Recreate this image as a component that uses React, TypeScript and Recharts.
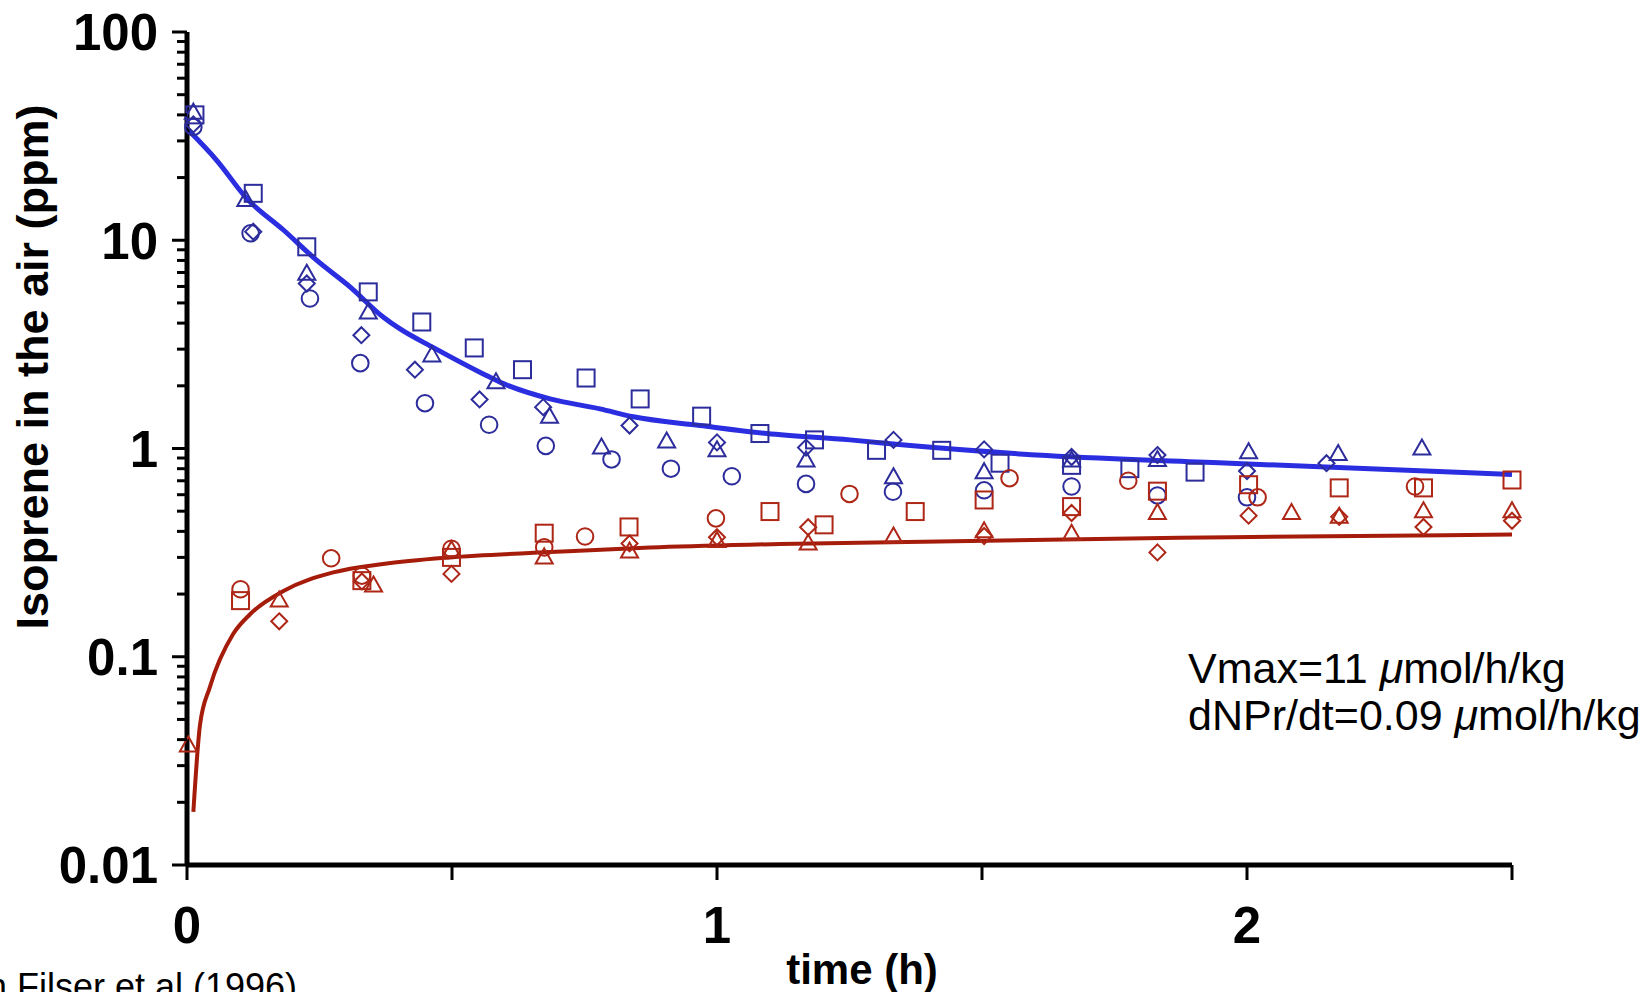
import React from 'react'
import {ComposedChart, Scatter, Line, XAxis, YAxis} from 'recharts'

// blue: chamber air after dosing, red: exhaled isoprene (ppm vs hours)
const blueSquare = [
  {t: 0.015, v: 40}, {t: 0.125, v: 16.8}, {t: 0.226, v: 9.3}, {t: 0.342, v: 5.65},
  {t: 0.443, v: 4.05}, {t: 0.542, v: 3.04}, {t: 0.633, v: 2.39}, {t: 0.753, v: 2.18},
  {t: 0.855, v: 1.73}, {t: 0.971, v: 1.43}, {t: 1.081, v: 1.18}, {t: 1.184, v: 1.1},
  {t: 1.301, v: 0.98}, {t: 1.424, v: 0.98}, {t: 1.534, v: 0.85}, {t: 1.669, v: 0.83},
  {t: 1.779, v: 0.8}, {t: 1.902, v: 0.77},
]
const blueTriangle = [
  {t: 0.012, v: 41}, {t: 0.111, v: 15.6}, {t: 0.226, v: 6.9}, {t: 0.342, v: 4.5},
  {t: 0.462, v: 2.8}, {t: 0.583, v: 2.08}, {t: 0.684, v: 1.42}, {t: 0.782, v: 1.01},
  {t: 0.905, v: 1.08}, {t: 1.0, v: 0.98}, {t: 1.168, v: 0.875}, {t: 1.333, v: 0.728},
  {t: 1.504, v: 0.77}, {t: 1.669, v: 0.875}, {t: 1.831, v: 0.88}, {t: 2.003, v: 0.96},
  {t: 2.172, v: 0.94}, {t: 2.33, v: 1.0},
]
const blueCircle = [
  {t: 0.012, v: 35}, {t: 0.12, v: 10.8}, {t: 0.232, v: 5.25}, {t: 0.327, v: 2.57},
  {t: 0.449, v: 1.65}, {t: 0.57, v: 1.3}, {t: 0.677, v: 1.03}, {t: 0.801, v: 0.886},
  {t: 0.913, v: 0.8}, {t: 1.028, v: 0.736}, {t: 1.168, v: 0.676}, {t: 1.332, v: 0.62},
  {t: 1.504, v: 0.63}, {t: 1.669, v: 0.657}, {t: 1.831, v: 0.595}, {t: 2.0, v: 0.583},
]
const blueDiamond = [
  {t: 0.012, v: 36}, {t: 0.125, v: 11}, {t: 0.226, v: 6.2}, {t: 0.329, v: 3.5},
  {t: 0.43, v: 2.39}, {t: 0.552, v: 1.72}, {t: 0.672, v: 1.58}, {t: 0.835, v: 1.29},
  {t: 1.0, v: 1.07}, {t: 1.168, v: 1.01}, {t: 1.333, v: 1.1}, {t: 1.504, v: 0.99},
  {t: 1.669, v: 0.91}, {t: 1.831, v: 0.93}, {t: 2.0, v: 0.78}, {t: 2.15, v: 0.85},
]

const redSquare = [
  {t: 0.101, v: 0.186}, {t: 0.33, v: 0.232}, {t: 0.499, v: 0.3}, {t: 0.674, v: 0.392},
  {t: 0.834, v: 0.42}, {t: 1.1, v: 0.498}, {t: 1.202, v: 0.43}, {t: 1.374, v: 0.498},
  {t: 1.504, v: 0.566}, {t: 1.669, v: 0.526}, {t: 1.831, v: 0.624}, {t: 2.003, v: 0.67},
  {t: 2.174, v: 0.647}, {t: 2.333, v: 0.647}, {t: 2.5, v: 0.706},
]
const redCircle = [
  {t: 0.101, v: 0.211}, {t: 0.272, v: 0.297}, {t: 0.33, v: 0.245}, {t: 0.499, v: 0.33},
  {t: 0.674, v: 0.335}, {t: 0.751, v: 0.378}, {t: 0.998, v: 0.462}, {t: 1.25, v: 0.605},
  {t: 1.552, v: 0.72}, {t: 1.776, v: 0.7}, {t: 2.02, v: 0.583}, {t: 2.317, v: 0.657},
]
const redTriangle = [
  {t: 0.0025, v: 0.0375}, {t: 0.174, v: 0.186}, {t: 0.352, v: 0.22}, {t: 0.499, v: 0.325},
  {t: 0.674, v: 0.3}, {t: 0.835, v: 0.32}, {t: 1.0, v: 0.36}, {t: 1.172, v: 0.35},
  {t: 1.333, v: 0.378}, {t: 1.504, v: 0.4}, {t: 1.669, v: 0.39}, {t: 1.831, v: 0.49},
  {t: 2.084, v: 0.49}, {t: 2.174, v: 0.47}, {t: 2.333, v: 0.5}, {t: 2.5, v: 0.5},
]
const redDiamond = [
  {t: 0.174, v: 0.148}, {t: 0.33, v: 0.23}, {t: 0.499, v: 0.25}, {t: 0.835, v: 0.35},
  {t: 1.0, v: 0.375}, {t: 1.172, v: 0.419}, {t: 1.504, v: 0.38}, {t: 1.669, v: 0.49},
  {t: 1.831, v: 0.317}, {t: 2.003, v: 0.476}, {t: 2.174, v: 0.47}, {t: 2.333, v: 0.42},
  {t: 2.5, v: 0.45},
]

// fitted model curves
const blueFit = [
  {t: 0.0025, v: 33.8}, {t: 0.056, v: 24.2}, {t: 0.113, v: 15.85}, {t: 0.182, v: 11.2},
  {t: 0.245, v: 8.0}, {t: 0.308, v: 5.96}, {t: 0.37, v: 4.28}, {t: 0.402, v: 3.75},
  {t: 0.465, v: 3.05}, {t: 0.559, v: 2.28}, {t: 0.591, v: 2.08}, {t: 0.685, v: 1.73},
  {t: 0.779, v: 1.55}, {t: 0.842, v: 1.42}, {t: 0.968, v: 1.29}, {t: 1.094, v: 1.18},
  {t: 1.251, v: 1.1}, {t: 1.37, v: 1.03}, {t: 1.622, v: 0.925}, {t: 1.968, v: 0.85},
  {t: 2.5, v: 0.75},
]
const redFit = [
  {t: 0.012, v: 0.018}, {t: 0.0245, v: 0.047}, {t: 0.043, v: 0.0713}, {t: 0.087, v: 0.1285},
  {t: 0.119, v: 0.16}, {t: 0.182, v: 0.207}, {t: 0.276, v: 0.254}, {t: 0.37, v: 0.279},
  {t: 0.496, v: 0.3}, {t: 0.685, v: 0.318}, {t: 0.874, v: 0.335}, {t: 1.119, v: 0.348},
  {t: 1.968, v: 0.375}, {t: 2.5, v: 0.386},
]

const xTicks = [0, 0.5, 1, 1.5, 2, 2.5]
const xLabels = [0, 1, 2]
const yTicks = [
  0.01, 0.02, 0.03, 0.04, 0.05, 0.06, 0.07, 0.08, 0.09,
  0.1, 0.2, 0.3, 0.4, 0.5, 0.6, 0.7, 0.8, 0.9,
  1, 2, 3, 4, 5, 6, 7, 8, 9,
  10, 20, 30, 40, 50, 60, 70, 80, 90,
  100,
]
const yLabels = [0.01, 0.1, 1, 10, 100]

const BLUE_MK = '#2c2c9c'
const BLUE_LN = '#2a2ee0'
const RED_MK = '#ae2616'
const RED_LN = '#a51c0a'
const FONT = '"Liberation Sans", Arial, Helvetica, sans-serif'

function Marker({cx, cy, kind, color}: {cx: number; cy: number; kind: string; color: string}) {
  const s = {fill: 'none', stroke: color, strokeWidth: 2}
  if (kind === 'square') return <rect x={cx - 8.5} y={cy - 8.5} width={17} height={17} {...s} />
  if (kind === 'circle') return <circle cx={cx} cy={cy} r={8.3} {...s} />
  if (kind === 'triangle')
    return <polygon points={`${cx},${cy - 9} ${cx + 8.5},${cy + 6} ${cx - 8.5},${cy + 6}`} {...s} />
  return <polygon points={`${cx},${cy - 8} ${cx + 8},${cy} ${cx},${cy + 8} ${cx - 8},${cy}`} {...s} />
}

const shapeOf = (kind: string, color: string) => (p: any) =>
  <Marker cx={p.cx} cy={p.cy} kind={kind} color={color} />

function YTick(props: any) {
  const {x, y, payload} = props
  const major = yLabels.includes(payload.value)
  return (
    <g>
      <line x1={x - (major ? 15 : 10)} x2={x} y1={y} y2={y} stroke="#000" strokeWidth={3} />
      {major && (
        <text x={x - 29} y={y} dy="0.36em" textAnchor="end" fontFamily={FONT}
          fontWeight="bold" fontSize={51} fill="#000">
          {String(payload.value)}
        </text>
      )}
    </g>
  )
}

function XTick(props: any) {
  const {x, y, payload} = props
  const lab = xLabels.includes(payload.value)
  return (
    <g>
      <line x1={x} x2={x} y1={y} y2={y + 15} stroke="#000" strokeWidth={3} />
      {lab && (
        <text x={x} y={y + 78} textAnchor="middle" fontFamily={FONT}
          fontWeight="bold" fontSize={51} fill="#000">
          {String(payload.value)}
        </text>
      )}
    </g>
  )
}

export default function App() {
  return (
    <div style={{position: 'absolute', left: 0, top: 0, width: 1650, height: 992, background: '#fff'}}>
      <ComposedChart width={1650} height={992} margin={{top: 32, right: 138, bottom: 0, left: 0}}>
        <XAxis
          type="number"
          dataKey="t"
          domain={[0, 2.5]}
          ticks={xTicks}
          height={127}
          tickSize={0}
          tickMargin={0}
          tickLine={false}
          tick={<XTick />}
          axisLine={{stroke: '#000', strokeWidth: 5}}
        />
        <YAxis
          type="number"
          dataKey="v"
          scale="log"
          domain={[0.01, 100]}
          ticks={yTicks}
          width={187}
          tickSize={0}
          tickMargin={0}
          tickLine={false}
          tick={<YTick />}
          interval={0}
          axisLine={{stroke: '#000', strokeWidth: 5}}
        />
        <Scatter data={blueSquare} shape={shapeOf('square', BLUE_MK)} isAnimationActive={false} />
        <Scatter data={blueTriangle} shape={shapeOf('triangle', BLUE_MK)} isAnimationActive={false} />
        <Scatter data={blueCircle} shape={shapeOf('circle', BLUE_MK)} isAnimationActive={false} />
        <Scatter data={blueDiamond} shape={shapeOf('diamond', BLUE_MK)} isAnimationActive={false} />
        <Scatter data={redSquare} shape={shapeOf('square', RED_MK)} isAnimationActive={false} />
        <Scatter data={redCircle} shape={shapeOf('circle', RED_MK)} isAnimationActive={false} />
        <Scatter data={redTriangle} shape={shapeOf('triangle', RED_MK)} isAnimationActive={false} />
        <Scatter data={redDiamond} shape={shapeOf('diamond', RED_MK)} isAnimationActive={false} />
        <Line data={blueFit} dataKey="v" type="monotone" stroke={BLUE_LN} strokeWidth={5}
          dot={false} activeDot={false} isAnimationActive={false} />
        <Line data={redFit} dataKey="v" type="monotone" stroke={RED_LN} strokeWidth={4}
          dot={false} activeDot={false} isAnimationActive={false} />
      </ComposedChart>
      <svg width={1650} height={992} style={{position: 'absolute', left: 0, top: 0, pointerEvents: 'none'}}>
        <text transform="rotate(-90)" x={-367} y={48} textAnchor="middle" fontFamily={FONT}
          fontWeight="bold" fontSize={45} fill="#000">
          Isoprene in the air (ppm)
        </text>
        <text x={862} y={984} textAnchor="middle" fontFamily={FONT} fontWeight="bold" fontSize={42} fill="#000">
          time (h)
        </text>
        <text x={297} y={999} textAnchor="end" fontFamily={FONT} fontSize={36} fill="#000">
          from Filser et al (1996)
        </text>
        <text x={1188} y={683} fontFamily={FONT} fontSize={43} fill="#000">
          Vmax=11 <tspan fontStyle="italic">μ</tspan>mol/h/kg
        </text>
        <text x={1188} y={730} fontFamily={FONT} fontSize={43} fill="#000">
          dNPr/dt=0.09 <tspan fontStyle="italic">μ</tspan>mol/h/kg
        </text>
      </svg>
    </div>
  )
}
